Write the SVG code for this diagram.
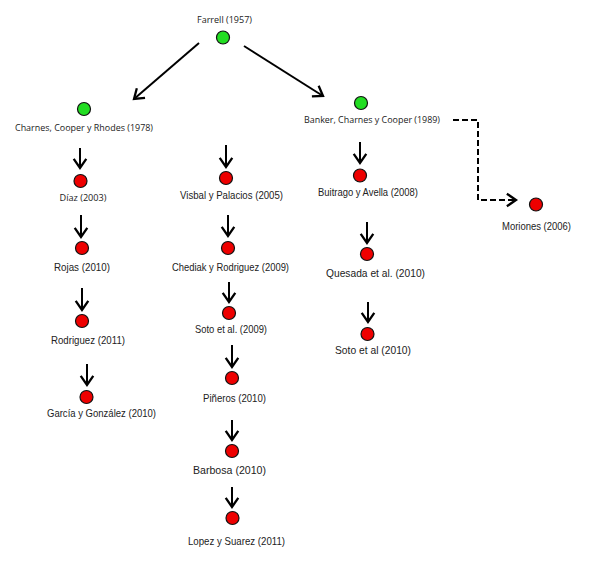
<svg xmlns="http://www.w3.org/2000/svg" width="593" height="569" viewBox="0 0 593 569">
<style>
.bg{fill:#fff}
.lbl{font-family:"Liberation Sans",Arial,sans-serif;font-size:10.5px;fill:#222;text-anchor:middle}
.cal{font-family:"Open Sans","Liberation Sans",sans-serif;font-size:9.5px;font-weight:500;fill:#222;text-anchor:middle}
.big{font-size:11.5px}
.g{fill:#22dd22;stroke:#111;stroke-width:1.2}
.r{fill:#ee0000;stroke:#111;stroke-width:1.2}
.a{stroke:#000;stroke-width:2;fill:none;marker-end:url(#ah)}
.d{stroke:#000;stroke-width:2;fill:none;stroke-dasharray:6 3;marker-end:url(#ah)}
</style>
<defs>
<marker id="ah" markerUnits="userSpaceOnUse" markerWidth="16" markerHeight="16" viewBox="-10 -7 12 14" refX="0" refY="0" orient="auto">
<path d="M-8,-5.5 L0,0 L-8,5.5" fill="none" stroke="#000" stroke-width="2"/>
</marker>
</defs>
<rect class="bg" x="0" y="0" width="593" height="569"/>
<g id="connectors">
<path class="a" d="M199,43 L134,99"/>
<path class="a" d="M244,46 L323,96"/>
<path class="d" d="M453,120 H478 V200 H516"/>
<path class="a" d="M80,148 V168"/>
<path class="a" d="M81,215 V237"/>
<path class="a" d="M82,288 V310"/>
<path class="a" d="M87,364 V385"/>
<path class="a" d="M226,145 V167"/>
<path class="a" d="M228,215 V236"/>
<path class="a" d="M229,282 V302"/>
<path class="a" d="M232,345 V367"/>
<path class="a" d="M232,420 V440"/>
<path class="a" d="M232,487 V507"/>
<path class="a" d="M360,142 V163"/>
<path class="a" d="M367,222 V243"/>
<path class="a" d="M368,302 V322"/>
</g>
<g id="farrell"><circle class="g" cx="223" cy="37.5" r="6.5"/><text class="cal" x="224.5" y="23" textLength="55" lengthAdjust="spacingAndGlyphs">Farrell (1957)</text></g>
<g id="charnes"><circle class="g" cx="84" cy="109" r="6.5"/><text class="cal" x="84" y="131" textLength="138" lengthAdjust="spacingAndGlyphs">Charnes, Cooper y Rhodes (1978)</text></g>
<g id="banker"><circle class="g" cx="361" cy="103" r="6.5"/><text class="cal" x="372" y="123" textLength="136" lengthAdjust="spacingAndGlyphs">Banker, Charnes y Cooper (1989)</text></g>
<g id="diaz"><circle class="r" cx="80.5" cy="181" r="6.5"/><text class="cal" x="83" y="201" textLength="47" lengthAdjust="spacingAndGlyphs">Díaz (2003)</text></g>
<g id="rojas"><circle class="r" cx="82" cy="248" r="6.5"/><text class="lbl" x="82" y="271" textLength="56" lengthAdjust="spacingAndGlyphs">Rojas (2010)</text></g>
<g id="rodriguez"><circle class="r" cx="82" cy="321" r="6.5"/><text class="lbl" x="88" y="344" textLength="74" lengthAdjust="spacingAndGlyphs">Rodriguez (2011)</text></g>
<g id="garcia"><circle class="r" cx="86.5" cy="397" r="6.5"/><text class="lbl" x="101.5" y="417" textLength="109" lengthAdjust="spacingAndGlyphs">García y González (2010)</text></g>
<g id="visbal"><circle class="r" cx="226" cy="178" r="6.5"/><text class="lbl" x="231.5" y="199" textLength="103" lengthAdjust="spacingAndGlyphs">Visbal y Palacios (2005)</text></g>
<g id="chediak"><circle class="r" cx="228" cy="248" r="6.5"/><text class="lbl" x="230.5" y="271" textLength="117" lengthAdjust="spacingAndGlyphs">Chediak y Rodriguez (2009)</text></g>
<g id="soto2009"><circle class="r" cx="229" cy="313" r="6.5"/><text class="lbl" x="231" y="333" textLength="72" lengthAdjust="spacingAndGlyphs">Soto et al. (2009)</text></g>
<g id="pineros"><circle class="r" cx="232" cy="378" r="6.5"/><text class="lbl" x="234.5" y="402" textLength="63" lengthAdjust="spacingAndGlyphs">Piñeros (2010)</text></g>
<g id="barbosa"><circle class="r" cx="232" cy="451" r="6.5"/><text class="lbl big" x="229.5" y="474" textLength="73" lengthAdjust="spacingAndGlyphs">Barbosa (2010)</text></g>
<g id="lopez"><circle class="r" cx="232.5" cy="518" r="6.5"/><text class="lbl" x="236.5" y="545" textLength="97" lengthAdjust="spacingAndGlyphs">Lopez y Suarez (2011)</text></g>
<g id="buitrago"><circle class="r" cx="360" cy="175.5" r="6.5"/><text class="lbl" x="368" y="196" textLength="100" lengthAdjust="spacingAndGlyphs">Buitrago y Avella (2008)</text></g>
<g id="quesada"><circle class="r" cx="367" cy="254" r="6.5"/><text class="lbl big" x="375.5" y="277" textLength="99" lengthAdjust="spacingAndGlyphs">Quesada et al. (2010)</text></g>
<g id="soto2010"><circle class="r" cx="367.5" cy="334" r="6.5"/><text class="lbl" x="373" y="354" textLength="76" lengthAdjust="spacingAndGlyphs">Soto et al (2010)</text></g>
<g id="moriones"><circle class="r" cx="536" cy="204.5" r="6.5"/><text class="lbl" x="536.5" y="230" textLength="69" lengthAdjust="spacingAndGlyphs">Moriones (2006)</text></g>
</svg>
